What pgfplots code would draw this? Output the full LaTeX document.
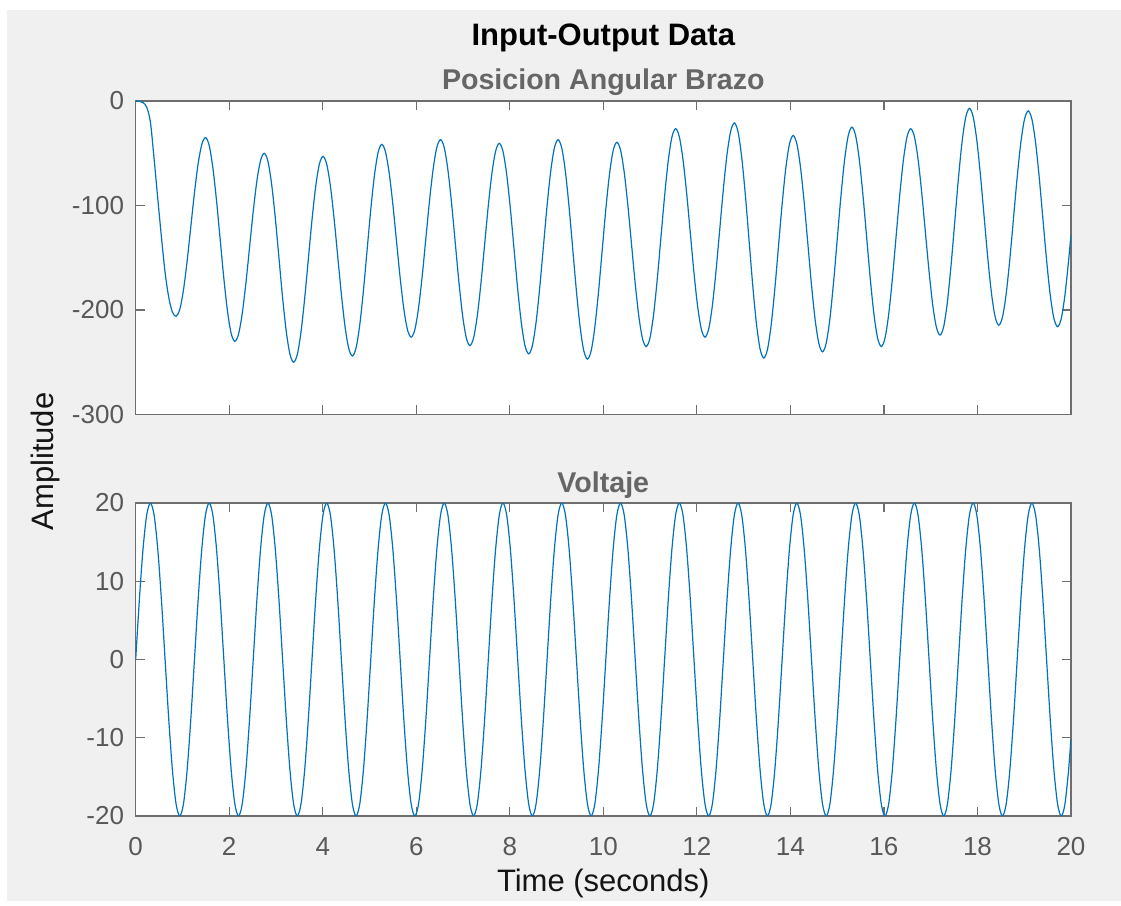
\documentclass[border=0pt]{standalone}
\usepackage{fontspec}
\setmainfont{Liberation Sans}
\usepackage{pgfplots}
\pgfplotsset{compat=1.18}
\usepackage{pgfplotstable}
\definecolor{mlblue}{RGB}{0,114,189}
\definecolor{bg}{RGB}{240,240,240}
\definecolor{axgray}{RGB}{110,110,110}
\definecolor{ticklab}{RGB}{88,88,88}
\definecolor{subgray}{RGB}{102,102,102}
\definecolor{labblack}{RGB}{20,20,20}

% v = Voltaje, p = Posicion Angular Brazo; sample step 0.0785398 s
\pgfplotstableread{
v p
0 0
7.654 -0.3
14.142 -1.5
18.478 -6
20 -20
18.478 -55
14.142 -93
7.654 -130
0 -164
-7.654 -188
-14.142 -202
-18.478 -206
-20 -199.5
-18.478 -181.0
-14.142 -153.2
-7.654 -120.5
0 -87.8
7.654 -60.0
14.142 -41.5
18.478 -35
20 -42.4
18.478 -63.6
14.142 -95.2
7.654 -132.5
0 -169.8
-7.654 -201.4
-14.142 -222.6
-18.478 -230
-20 -223.1
-18.478 -203.6
-14.142 -174.4
-7.654 -140
0 -105.6
7.654 -76.4
14.142 -56.9
18.478 -50
20 -57.6
18.478 -79.3
14.142 -111.7
7.654 -150
0 -188.3
-7.654 -220.7
-14.142 -242.4
-18.478 -250
-20 -242.5
-18.478 -221.2
-14.142 -189.2
-7.654 -151.5
0 -113.8
7.654 -81.9
14.142 -60.5
18.478 -53
20 -60.3
18.478 -81.0
14.142 -112.0
7.654 -148.5
0 -185.0
-7.654 -216.0
-14.142 -236.7
-18.478 -244
-20 -236.3
-18.478 -214.3
-14.142 -181.5
-7.654 -142.8
0 -104.0
7.654 -71.2
14.142 -49.2
18.478 -41.5
20 -48.5
18.478 -68.5
14.142 -98.4
7.654 -133.8
0 -169.1
-7.654 -199.0
-14.142 -219.0
-18.478 -226
-20 -218.8
-18.478 -198.3
-14.142 -167.7
-7.654 -131.5
0 -95.3
7.654 -64.7
14.142 -44.2
18.478 -37
20 -44.5
18.478 -65.9
14.142 -97.8
7.654 -135.5
0 -173.2
-7.654 -205.2
-14.142 -226.5
-18.478 -234
-20 -226.6
-18.478 -205.7
-14.142 -174.3
-7.654 -137.3
0 -100.2
7.654 -68.8
14.142 -47.9
18.478 -40.5
20 -48.2
18.478 -70.0
14.142 -102.7
7.654 -141.3
0 -179.8
-7.654 -212.5
-14.142 -234.3
-18.478 -242
-20 -234.2
-18.478 -212.0
-14.142 -178.7
-7.654 -139.5
0 -100.3
7.654 -67.0
14.142 -44.8
18.478 -37
20 -45.0
18.478 -67.8
14.142 -101.8
7.654 -142
0 -182.2
-7.654 -216.2
-14.142 -239.0
-18.478 -247
-20 -239.1
-18.478 -216.6
-14.142 -183.0
-7.654 -143.3
0 -103.5
7.654 -69.9
14.142 -47.4
18.478 -39.5
20 -46.9
18.478 -68.1
14.142 -99.8
7.654 -137.3
0 -174.7
-7.654 -206.4
-14.142 -227.6
-18.478 -235
-20 -227.1
-18.478 -204.5
-14.142 -170.6
-7.654 -130.8
0 -90.9
7.654 -57.0
14.142 -34.4
18.478 -26.5
20 -34.1
18.478 -55.7
14.142 -88.1
7.654 -126.3
0 -164.4
-7.654 -196.8
-14.142 -218.4
-18.478 -226
-20 -218.2
-18.478 -196.0
-14.142 -162.7
-7.654 -123.5
0 -84.3
7.654 -51.0
14.142 -28.8
18.478 -21
20 -29.6
18.478 -54.0
14.142 -90.4
7.654 -133.5
0 -176.6
-7.654 -213.0
-14.142 -237.4
-18.478 -246
-20 -237.9
-18.478 -214.8
-14.142 -180.3
-7.654 -139.5
0 -98.7
7.654 -64.2
14.142 -41.1
18.478 -33
20 -40.9
18.478 -63.3
14.142 -96.9
7.654 -136.5
0 -176.1
-7.654 -209.7
-14.142 -232.1
-18.478 -240
-20 -231.8
-18.478 -208.5
-14.142 -173.6
-7.654 -132.5
0 -91.4
7.654 -56.5
14.142 -33.2
18.478 -25
20 -33.0
18.478 -55.8
14.142 -89.8
7.654 -130
0 -170.2
-7.654 -204.2
-14.142 -227.0
-18.478 -235
-20 -227.1
-18.478 -204.5
-14.142 -170.6
-7.654 -130.8
0 -90.9
7.654 -57.0
14.142 -34.4
18.478 -26.5
20 -34.0
18.478 -55.4
14.142 -87.5
7.654 -125.3
0 -163.0
-7.654 -195.1
-14.142 -216.5
-18.478 -224
-20 -215.7
-18.478 -192.2
-14.142 -157.0
-7.654 -115.5
0 -74.0
7.654 -38.8
14.142 -15.3
18.478 -7
20 -14.9
18.478 -37.4
14.142 -71.1
7.654 -110.8
0 -150.5
-7.654 -184.1
-14.142 -206.6
-18.478 -214.5
-20 -206.7
-18.478 -184.5
-14.142 -151.2
-7.654 -112.0
0 -72.8
7.654 -39.5
14.142 -17.3
18.478 -9.5
20 -17.4
18.478 -39.7
14.142 -73.2
7.654 -112.8
0 -152.3
-7.654 -185.8
-14.142 -208.1
-18.478 -216
-20 -208.2
-18.478 -185.8
-14.142 -152.4
}\data

\pgfplotsset{
  mlaxis/.style={
    scale only axis,
    width=467.65pt,
    xmin=0, xmax=20,
    xtick={0,2,...,20},
    axis background/.style={fill=white},
    axis line style={axgray, line width=0.6pt},
    tick style={axgray, line width=0.6pt},
    major tick length=4.5pt,
    tick align=inside,
    tick pos=both,
    /pgf/number format/assume math mode=true,
    ticklabel style={font=\fontsize{13}{15}\selectfont, text=ticklab},
    yticklabel style={xshift=-2.3pt},
    xticklabel style={yshift=-7.3pt},
    clip=true,
  }
}

\begin{document}
\begin{tikzpicture}
\fill[white] (0pt,0pt) rectangle (560.5pt,450.5pt);
\fill[bg] (3.5pt,0pt) rectangle (560.5pt,445.5pt);

\begin{axis}[mlaxis,
  at={(67.85pt,243.25pt)}, anchor=south west,
  height=156.75pt,
  ymin=-300, ymax=0,
  ytick={-300,-200,-100,0},
  xticklabels={},
]
\addplot[mlblue, line width=0.6pt, smooth] table[x expr=\coordindex*0.0785398, y=p] {\data};
\addplot[mlblue, line width=0.6pt] coordinates {(19.94911,-152.4) (20,-128)};
\end{axis}

\begin{axis}[mlaxis,
  at={(67.85pt,42.5pt)}, anchor=south west,
  height=156.5pt,
  ymin=-20, ymax=20,
  ytick={-20,-10,0,10,20},
]
\addplot[mlblue, line width=0.6pt, smooth] table[x expr=\coordindex*0.0785398, y=v] {\data};
\addplot[mlblue, line width=0.6pt] coordinates {(19.94911,-14.142) (20,-10.13)};
\end{axis}

\node[anchor=base, font=\fontsize{15.5}{18}\selectfont\bfseries, text=black] at (301.65pt,427.5pt) {Input-Output Data};
\node[anchor=base, font=\fontsize{14.3}{17}\selectfont\bfseries, text=subgray] at (301.65pt,405.75pt) {Posicion Angular Brazo};
\node[anchor=base, font=\fontsize{14.3}{17}\selectfont\bfseries, text=subgray] at (301.65pt,204pt) {Voltaje};
\node[anchor=base, font=\fontsize{15.5}{18}\selectfont, text=labblack] at (301.65pt,4.5pt) {Time (seconds)};
\node[anchor=base, rotate=90, font=\fontsize{15.5}{18}\selectfont, text=labblack] at (26.65pt,219.75pt) {Amplitude};
\end{tikzpicture}
\end{document}
